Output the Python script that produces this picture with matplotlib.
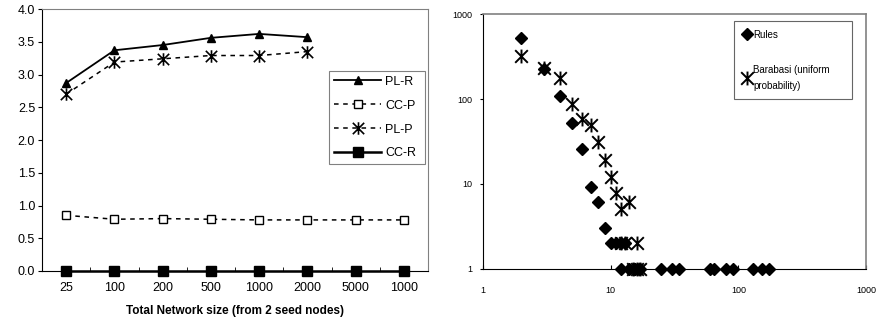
import matplotlib
matplotlib.use("Agg")
import matplotlib.pyplot as plt
from matplotlib.path import Path
import numpy as np

plt.rcParams['font.family'] = ['Liberation Sans', 'DejaVu Sans']

# ---- left chart data ----
sizes = ["25", "100", "200", "500", "1000", "2000", "5000", "1000"]
pl_r = [2.87, 3.37, 3.45, 3.56, 3.62, 3.57]
cc_p = [0.85, 0.79, 0.80, 0.79, 0.78, 0.78, 0.78, 0.78]
pl_p = [2.70, 3.19, 3.24, 3.29, 3.29, 3.35]
cc_r = [0, 0, 0, 0, 0, 0, 0, 0]
y_ticks = [0.0, 0.5, 1.0, 1.5, 2.0, 2.5, 3.0, 3.5, 4.0]

# ---- right chart data ----
rules_x = [2, 3, 4, 5, 6, 7, 8, 9, 10, 11, 12, 13,
           12, 14, 15.5, 17, 25, 30, 34, 60, 64, 80, 91, 131, 152, 174]
rules_y = [527, 224, 108, 52, 26, 9.1, 6.1, 3.0, 2, 2, 2, 2,
           1, 1, 1, 1, 1, 1, 1, 1, 1, 1, 1, 1, 1, 1]
bara_x = [2, 3, 4, 5, 6, 7, 8, 9, 10, 11, 12, 14, 12, 13, 16, 15, 16, 17]
bara_y = [324, 230, 176, 87, 58, 50, 31, 19, 12, 7.8, 5.1, 6.1, 2, 2, 2, 1, 1, 1]

star = Path([(-1, -1), (1, 1), (-1, 1), (1, -1), (0, -1.1), (0, 1.1)],
            [Path.MOVETO, Path.LINETO] * 3)

fig = plt.figure(figsize=(8.76, 3.29), dpi=100)

# ---------------- left ----------------
ax = fig.add_axes([0.048, 0.1763, 0.4406, 0.7963])
xpos = np.arange(len(sizes))
ax.plot(xpos[:len(pl_r)], pl_r, '-', color='black', lw=1.3, marker='^', ms=6,
        mfc='black', mec='black', label='PL-R', clip_on=False)
ax.plot(xpos, cc_p, linestyle=(0, (3, 3)), color='black', lw=1.1, marker='s', ms=6,
        mfc='white', mec='black', mew=1.0, label='CC-P', clip_on=False)
ax.plot(xpos[:len(pl_p)], pl_p, linestyle=(0, (3, 3)), color='black', lw=1.1, marker=star,
        ms=9, mec='black', mew=1.2, label='PL-P', clip_on=False)
ax.plot(xpos, cc_r, '-', color='black', lw=1.8, marker='s', ms=6.5,
        mfc='black', mec='black', label='CC-R', clip_on=False, zorder=5)
ax.set_xlim(-0.5, len(sizes) - 0.5)
ax.set_ylim(0, 4.0)
ax.set_yticks(y_ticks)
ax.set_yticklabels([f"{v:.1f}" for v in y_ticks], fontsize=9)
ax.set_xticks(xpos)
ax.set_xticklabels(sizes, fontsize=9)
ax.set_xticks(np.arange(len(sizes) + 1) - 0.5, minor=True)
ax.tick_params(axis='x', which='major', length=0, pad=8)
ax.tick_params(axis='x', which='minor', direction='in', length=3)
ax.tick_params(axis='y', direction='out', length=3, pad=2)
for s in ['top', 'right']:
    ax.spines[s].set_color('#808080')
ax.spines['left'].set_color('black')
ax.spines['bottom'].set_color('black')
ax.set_xlabel('Total Network size (from 2 seed nodes)', fontsize=8.5,
              fontweight='bold', labelpad=8)
leg = ax.legend(loc='upper left', bbox_to_anchor=(0.743, 0.764, 0.249, 0),
                mode='expand', fontsize=9,
                frameon=True, fancybox=False, edgecolor='#606060',
                handlelength=3.8, labelspacing=0.95, borderpad=0.4,
                handletextpad=0.3, borderaxespad=0)
leg.get_frame().set_linewidth(0.8)

# ---------------- right ----------------
ax2 = fig.add_axes([0.5514, 0.1824, 0.4372, 0.775])
ax2.set_xscale('log')
ax2.set_yscale('log')
ax2.plot(rules_x, rules_y, linestyle='none', marker='D', ms=6.2, color='black',
         label='Rules', clip_on=False, zorder=3)
ax2.plot(bara_x, bara_y, linestyle='none', marker=star, ms=10, mec='black',
         mew=1.4, label='Barabasi (uniform\nprobability)', clip_on=False, zorder=4)
ax2.set_xlim(1, 1000)
ax2.set_ylim(1, 1000)
ax2.set_xticks([1, 10, 100, 1000])
ax2.set_xticklabels(['1', '10', '100', '1000'], fontsize=6.5)
ax2.set_yticks([1, 10, 100, 1000])
ax2.set_yticklabels(['1', '10', '100', '1000'], fontsize=6.5)
ax2.minorticks_off()
ax2.tick_params(axis='x', direction='in', length=3, pad=12)
ax2.tick_params(axis='y', direction='out', length=2, pad=6)
for s in ['top', 'right']:
    ax2.spines[s].set_color('#808080')
    ax2.spines[s].set_linewidth(1.2)
ax2.spines['left'].set_color('black')
ax2.spines['bottom'].set_color('black')
leg2 = ax2.legend(loc='upper left', bbox_to_anchor=(0.655, 0.973, 0.308, 0),
                  mode='expand', fontsize=7,
                  frameon=True, fancybox=False, edgecolor='#404040',
                  handlelength=0.8, labelspacing=2.6, borderpad=0.9,
                  handletextpad=0.3, borderaxespad=0)
leg2.get_frame().set_linewidth(0.8)
for t in leg2.get_texts():
    t.set_linespacing(1.7)

fig.savefig('out.png', dpi=100)
